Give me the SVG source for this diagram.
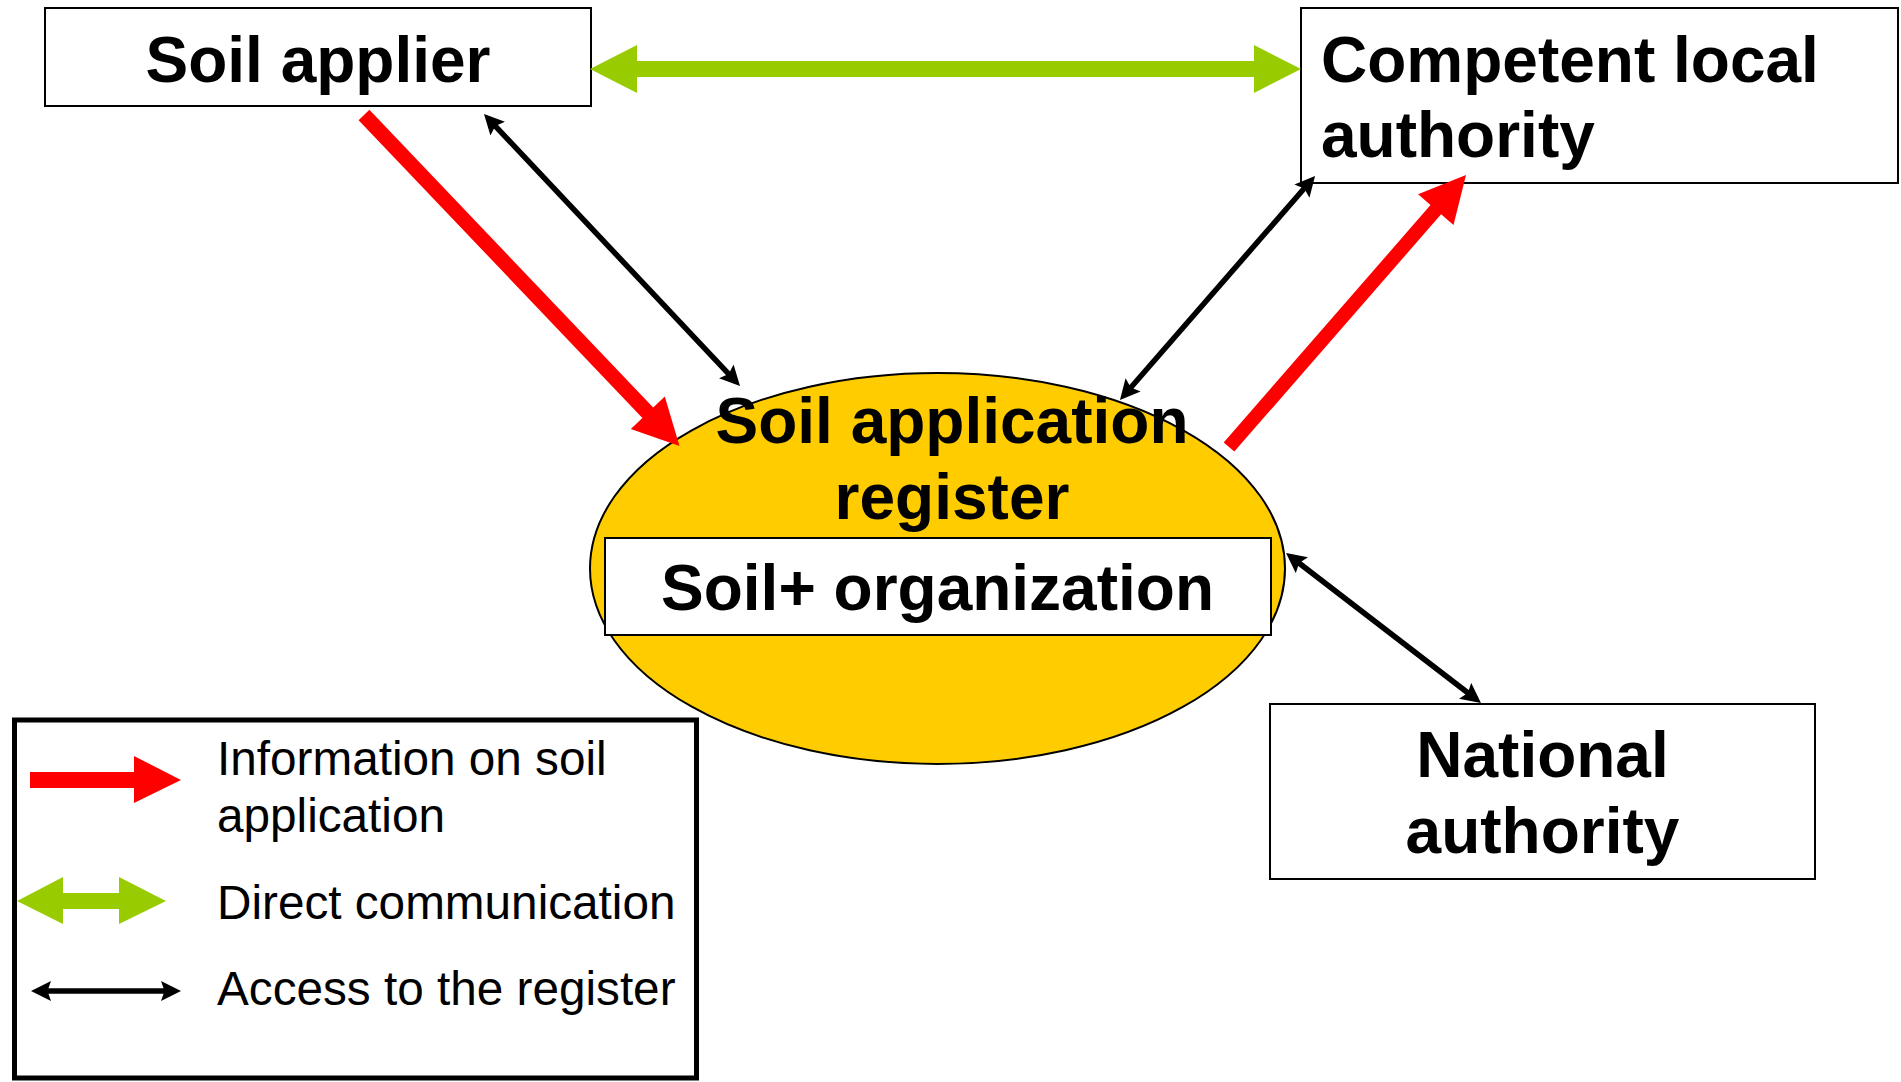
<svg xmlns="http://www.w3.org/2000/svg" width="1901" height="1082" viewBox="0 0 1901 1082">
  <style>
    .box { fill: #ffffff; stroke: #000000; stroke-width: 2; }
    .bold { font-family: "Liberation Sans", Arial, sans-serif; font-weight: bold; font-size: 64px; fill: #000000; }
    .legend-text { font-family: "Liberation Sans", Arial, sans-serif; font-size: 47.7px; fill: #000000; }
    .info { fill: #ff0000; }
    .direct { fill: #99cc00; }
  </style>
  <defs>
    <marker id="head" viewBox="0 0 20 20" refX="14" refY="10" markerWidth="20" markerHeight="20" markerUnits="userSpaceOnUse" orient="auto-start-reverse">
      <path d="M0,0 L20,10 L0,20 L3.5,10 z" fill="#000000"/>
    </marker>
  </defs>

  <rect width="1901" height="1082" fill="#ffffff"/>

  <!-- central register -->
  <g id="register">
    <ellipse cx="937.5" cy="568.5" rx="347.5" ry="195.5" fill="#ffcc00" stroke="#000000" stroke-width="2"/>
    <text class="bold" x="952" y="443" text-anchor="middle">Soil application</text>
    <text class="bold" x="952" y="519" text-anchor="middle">register</text>
  </g>

  <g id="soil-organization">
    <rect class="box" x="605" y="538" width="666" height="97"/>
    <text class="bold" x="937.5" y="610" text-anchor="middle">Soil+ organization</text>
  </g>

  <g id="soil-applier">
    <rect class="box" x="45" y="8" width="546" height="98"/>
    <text class="bold" x="318" y="82" text-anchor="middle">Soil applier</text>
  </g>

  <g id="competent-local-authority">
    <rect class="box" x="1301" y="8" width="597" height="175"/>
    <text class="bold" x="1321" y="82">Competent local</text>
    <text class="bold" x="1321" y="157">authority</text>
  </g>

  <g id="national-authority">
    <rect class="box" x="1270" y="704" width="545" height="175"/>
    <text class="bold" x="1542.5" y="777" text-anchor="middle">National</text>
    <text class="bold" x="1542.5" y="853" text-anchor="middle">authority</text>
  </g>

  <!-- connectors: thick arrows are filled shapes, register access lines use the shared head marker -->
  <g id="connectors">
    <polygon class="direct" points="590,69 637,45 637,61 1254,61 1254,45 1301,69 1254,93 1254,77 637,77 637,93"/>
    <polygon class="info" points="369.4,109.8 653.2,407.5 664.8,396.5 679.5,446 630.8,428.9 642.4,417.9 358.6,120.2"/>
    <polygon class="info" points="1234.3,451.6 1441.1,214.3 1453.5,225.1 1466,175 1418.1,194.3 1430.5,205.1 1223.7,442.4"/>
    <g stroke="#000000" stroke-width="5.5" fill="none" marker-start="url(#head)" marker-end="url(#head)">
      <line x1="488.1" y1="118.4" x2="735.9" y2="381.6"/>
      <line x1="1311.1" y1="180.5" x2="1123.9" y2="395.5"/>
      <line x1="1290.8" y1="556.7" x2="1476.2" y2="699.3"/>
    </g>
  </g>

  <!-- legend -->
  <g id="legend">
    <rect x="14.5" y="720" width="682" height="358" fill="#ffffff" stroke="#000000" stroke-width="5"/>
    <polygon class="info" points="30,772 134,772 134,756 181,780 134,803 134,788 30,788"/>
    <text class="legend-text" x="217" y="775">Information on soil</text>
    <text class="legend-text" x="217" y="832">application</text>
    <polygon class="direct" points="17,901 63,877 63,893 119,893 119,877 166,901 119,924 119,909 63,909 63,924"/>
    <text class="legend-text" x="217" y="919">Direct communication</text>
    <line x1="37" y1="991" x2="175" y2="991" stroke="#000000" stroke-width="5.5" marker-start="url(#head)" marker-end="url(#head)"/>
    <text class="legend-text" x="217" y="1005">Access to the register</text>
  </g>
</svg>
